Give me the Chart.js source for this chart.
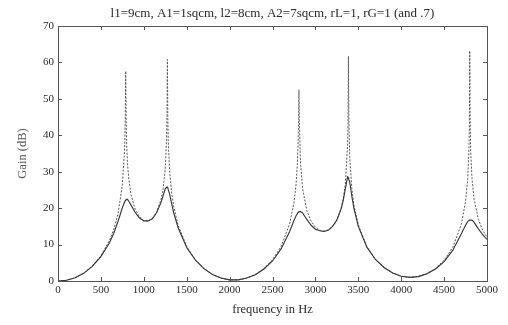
<!doctype html>
<html>

<head>
  <script src="https://cdn.jsdelivr.net/npm/chart.js@4/dist/chart.umd.min.js"></script>
  <style>
    html, body { margin: 0; background: #fff; }
    #wrap { width: 508px; height: 325px; }
  </style>
</head>

<body>
  <div id="wrap"><canvas id="canvas"></canvas></div>
  <script>
    // frequency (Hz) and gain (dB)
    const freqs = [0, 100, 200, 300, 400, 500, 600, 650, 700, 750, 775, 780, 785, 789, 794, 800, 810, 825, 850, 900,
      950, 1000, 1050, 1100, 1150, 1200, 1225, 1250, 1265, 1270, 1275, 1280, 1285, 1300, 1325, 1350, 1400, 1500,
      1600, 1700, 1800, 1900, 2000, 2100, 2200, 2300, 2400, 2500, 2600, 2700, 2750, 2775, 2790, 2800, 2804, 2808,
      2813, 2825, 2850, 2900, 2950, 3000, 3050, 3100, 3150, 3200, 3250, 3300, 3325, 3350, 3375, 3380, 3385, 3390,
      3400, 3425, 3450, 3500, 3600, 3700, 3800, 3900, 4000, 4100, 4200, 4300, 4400, 4500, 4600, 4700, 4750, 4775,
      4790, 4795, 4799, 4804, 4810, 4825, 4850, 4900, 4950, 5000];

    // rG = 1 (dashed)
    const gainRG1 = [0.0, 0.2, 0.9, 2.2, 4.1, 6.9, 11.1, 14.2, 18.5, 26.3, 35.6, 39.3, 46.1, 57.6, 45.0, 37.9, 32.2, 28.0, 23.8, 19.6,
      17.6, 16.6, 16.5, 17.2, 18.9, 22.3, 25.3, 30.8, 38.8, 45.0, 60.8, 44.3, 38.5, 30.6, 24.1, 20.3, 15.3, 9.5,
      5.8, 3.5, 1.8, 0.8, 0.3, 0.3, 0.8, 1.8, 3.4, 5.8, 9.5, 15.7, 21.5, 26.6, 32.2, 39.0, 44.6, 52.5,
      44.2, 33.1, 25.5, 19.3, 16.4, 14.8, 13.9, 13.7, 14.0, 15.0, 16.8, 20.0, 22.6, 26.9, 37.2, 42.9, 61.7, 44.3,
      34.2, 25.3, 20.7, 15.4, 9.4, 5.9, 3.7, 2.2, 1.3, 1.0, 1.3, 2.0, 3.4, 5.7, 9.2, 15.5, 21.8, 28.1,
      36.4, 42.9, 63.2, 42.9, 35.5, 28.1, 22.4, 16.9, 13.9, 12.1];

    // rG = .7 (solid)
    const gainRG07 = [0.0, 0.2, 0.9, 2.1, 4.0, 6.7, 10.5, 13.1, 16.4, 20.1, 21.7, 21.9, 22.1, 22.2, 22.3, 22.4, 22.4, 21.9, 20.9, 18.8,
      17.3, 16.5, 16.5, 17.1, 18.8, 21.5, 23.4, 25.3, 25.7, 25.8, 25.8, 25.5, 25.1, 23.9, 21.2, 18.6, 14.6, 9.2,
      5.8, 3.4, 1.8, 0.8, 0.3, 0.3, 0.8, 1.7, 3.3, 5.5, 8.8, 13.6, 16.6, 17.9, 18.5, 18.9, 18.9, 19.0,
      19.0, 19.1, 18.7, 16.9, 15.3, 14.2, 13.8, 13.6, 13.9, 15.0, 16.7, 19.8, 22.2, 25.4, 28.6, 28.5, 28.3, 28.0,
      27.2, 23.2, 19.8, 15.0, 9.3, 5.9, 3.7, 2.2, 1.3, 1.0, 1.2, 2.0, 3.3, 5.3, 8.4, 12.9, 15.3, 16.3,
      16.6, 16.7, 16.7, 16.7, 16.7, 16.7, 16.1, 14.3, 12.7, 11.4];

    const titleText = 'l1=9cm, A1=1sqcm, l2=8cm, A2=7sqcm, rL=1, rG=1 (and .7)';
    const serifName = "'Liberation Serif', 'DejaVu Serif', serif";
    const tickFont = { family: serifName, size: 11, weight: 'normal' };
    const labelFont = { family: serifName, size: 12.5, weight: 'normal' };
    const ink = '#2a2a2a';

    // matlab style box with inward ticks, and the title centred over the axes
    const boxTicks = {
      id: 'boxTicks',
      afterDatasetsDraw(chart) {
        const { ctx, chartArea: a, scales: { x, y } } = chart;
        ctx.save();
        ctx.strokeStyle = '#555';
        ctx.lineWidth = 1;
        ctx.strokeRect(a.left + 0.5, a.top + 0.5, a.right - a.left, a.bottom - a.top);
        ctx.beginPath();
        x.ticks.forEach((t) => {
          const px = Math.round(x.getPixelForValue(t.value)) + 0.5;
          ctx.moveTo(px, a.bottom); ctx.lineTo(px, a.bottom - 4);
          ctx.moveTo(px, a.top); ctx.lineTo(px, a.top + 4);
        });
        y.ticks.forEach((t) => {
          const py = Math.round(y.getPixelForValue(t.value)) + 0.5;
          ctx.moveTo(a.left, py); ctx.lineTo(a.left + 4, py);
          ctx.moveTo(a.right, py); ctx.lineTo(a.right - 4, py);
        });
        ctx.stroke();

        ctx.fillStyle = ink;
        ctx.font = '13px ' + serifName;
        ctx.textAlign = 'center';
        ctx.textBaseline = 'middle';
        ctx.fillText(titleText, (a.left + a.right) / 2, 14);
        ctx.restore();
      }
    };

    const pts = (ys) => freqs.map((f, i) => ({ x: f, y: ys[i] }));

    new Chart(document.getElementById('canvas'), {
      type: 'line',
      data: {
        datasets: [{
          label: 'rG=.7',
          data: pts(gainRG07),
          borderColor: '#333',
          borderWidth: 1.1,
          pointRadius: 0,
          tension: 0,
          order: 0
        }, {
          label: 'rG=1',
          data: pts(gainRG1),
          borderColor: '#555',
          borderWidth: 1,
          borderDash: [2, 1.5],
          pointRadius: 0,
          tension: 0,
          order: 1
        }]
      },
      options: {
        responsive: true,
        maintainAspectRatio: false,
        animation: false,
        layout: { padding: { left: 0, right: 21, top: 26, bottom: 0 } },
        plugins: {
          legend: { display: false },
          tooltip: { enabled: false },
          title: { display: false }
        },
        scales: {
          x: {
            type: 'linear',
            min: 0,
            max: 5000,
            grid: { display: false, drawTicks: false },
            border: { display: false },
            ticks: { stepSize: 500, color: ink, font: tickFont, padding: 3, maxRotation: 0, callback: (v) => String(v) },
            title: { display: true, text: 'frequency in Hz', color: ink, font: labelFont, padding: { top: 4, bottom: 8 } },
            afterFit: (s) => { s.height = 44; }
          },
          y: {
            min: 0,
            max: 70,
            grid: { display: false, drawTicks: false },
            border: { display: false },
            ticks: { stepSize: 10, color: ink, font: tickFont, padding: 4, callback: (v) => String(v) },
            title: { display: true, text: 'Gain (dB)', color: '#555', font: labelFont, padding: { top: 15, bottom: 0 } },
            afterFit: (s) => { s.width = 58; }
          }
        }
      },
      plugins: [boxTicks]
    });
  </script>
</body>

</html>
